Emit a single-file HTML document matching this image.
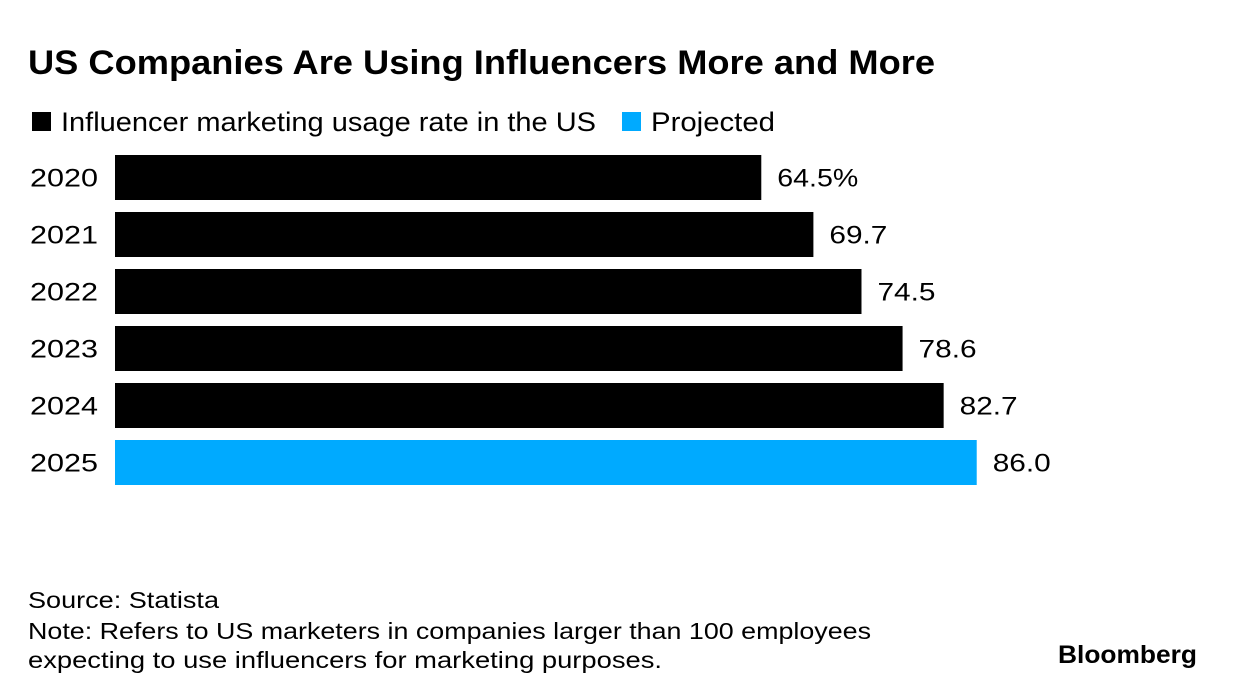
<!DOCTYPE html>
<html><head><meta charset="utf-8"><style>
body{margin:0;width:1236px;height:698px;background:#fff;overflow:hidden;font-family:"Liberation Sans",Arial,sans-serif;}
svg{display:block}
</style></head><body>
<svg width="1236" height="698">
<text x="28" y="74" font-size="34" font-weight="bold" fill="#000" textLength="907" lengthAdjust="spacingAndGlyphs">US Companies Are Using Influencers More and More</text>
<g>
<rect x="32" y="112" width="19" height="19" fill="#000"/>
<text x="61" y="131" font-size="27" fill="#000" textLength="535" lengthAdjust="spacingAndGlyphs">Influencer marketing usage rate in the US</text>
<rect x="622" y="112" width="19" height="19" fill="#00aaff"/>
<text x="651" y="131" font-size="27" fill="#000" textLength="124" lengthAdjust="spacingAndGlyphs">Projected</text>
</g>
<g id="bars"></g>
<text x="28" y="608" font-size="23" fill="#000" textLength="191" lengthAdjust="spacingAndGlyphs">Source: Statista</text>
<text x="28" y="639" font-size="23" fill="#000" textLength="843" lengthAdjust="spacingAndGlyphs">Note: Refers to US marketers in companies larger than 100 employees</text>
<text x="28" y="668" font-size="23" fill="#000" textLength="634" lengthAdjust="spacingAndGlyphs">expecting to use influencers for marketing purposes.</text>
<text x="1058" y="663" font-size="25" font-weight="bold" fill="#000" textLength="139" lengthAdjust="spacingAndGlyphs">Bloomberg</text>
</svg>
<script>
const categories=["2020","2021","2022","2023","2024","2025"];
const values=[64.5,69.7,74.5,78.6,82.7,86.0];
const labels=["64.5%","69.7","74.5","78.6","82.7","86.0"];
const projected=[false,false,false,false,false,true];
const x0=115, pxPerUnit=10.02, y0=155, step=57, bh=45;
const xs=v=>x0+v*pxPerUnit;
const ys=i=>y0+i*step;
const g=document.getElementById('bars');
const NS="http://www.w3.org/2000/svg";
categories.forEach((c,i)=>{
  const r=document.createElementNS(NS,'rect');
  r.setAttribute('x',x0);r.setAttribute('y',ys(i));
  r.setAttribute('width',xs(values[i])-x0);r.setAttribute('height',bh);
  r.setAttribute('fill',projected[i]?'#00aaff':'#000');
  
  
  g.appendChild(r);
  const t=document.createElementNS(NS,'text');
  t.setAttribute('x',30);t.setAttribute('y',ys(i)+bh/2+9);
  t.setAttribute('font-size','25');
  t.setAttribute('textLength','68');t.setAttribute('lengthAdjust','spacingAndGlyphs');
  t.textContent=c;
  
  
  g.appendChild(t);
  const v=document.createElementNS(NS,'text');
  v.setAttribute('x',xs(values[i])+16);v.setAttribute('y',ys(i)+bh/2+9);
  v.setAttribute('font-size','25');
  v.setAttribute('textLength',labels[i].length>4?'81':'58');v.setAttribute('lengthAdjust','spacingAndGlyphs');
  v.textContent=labels[i];
  
  
  g.appendChild(v);
});
</script>
</body></html>
